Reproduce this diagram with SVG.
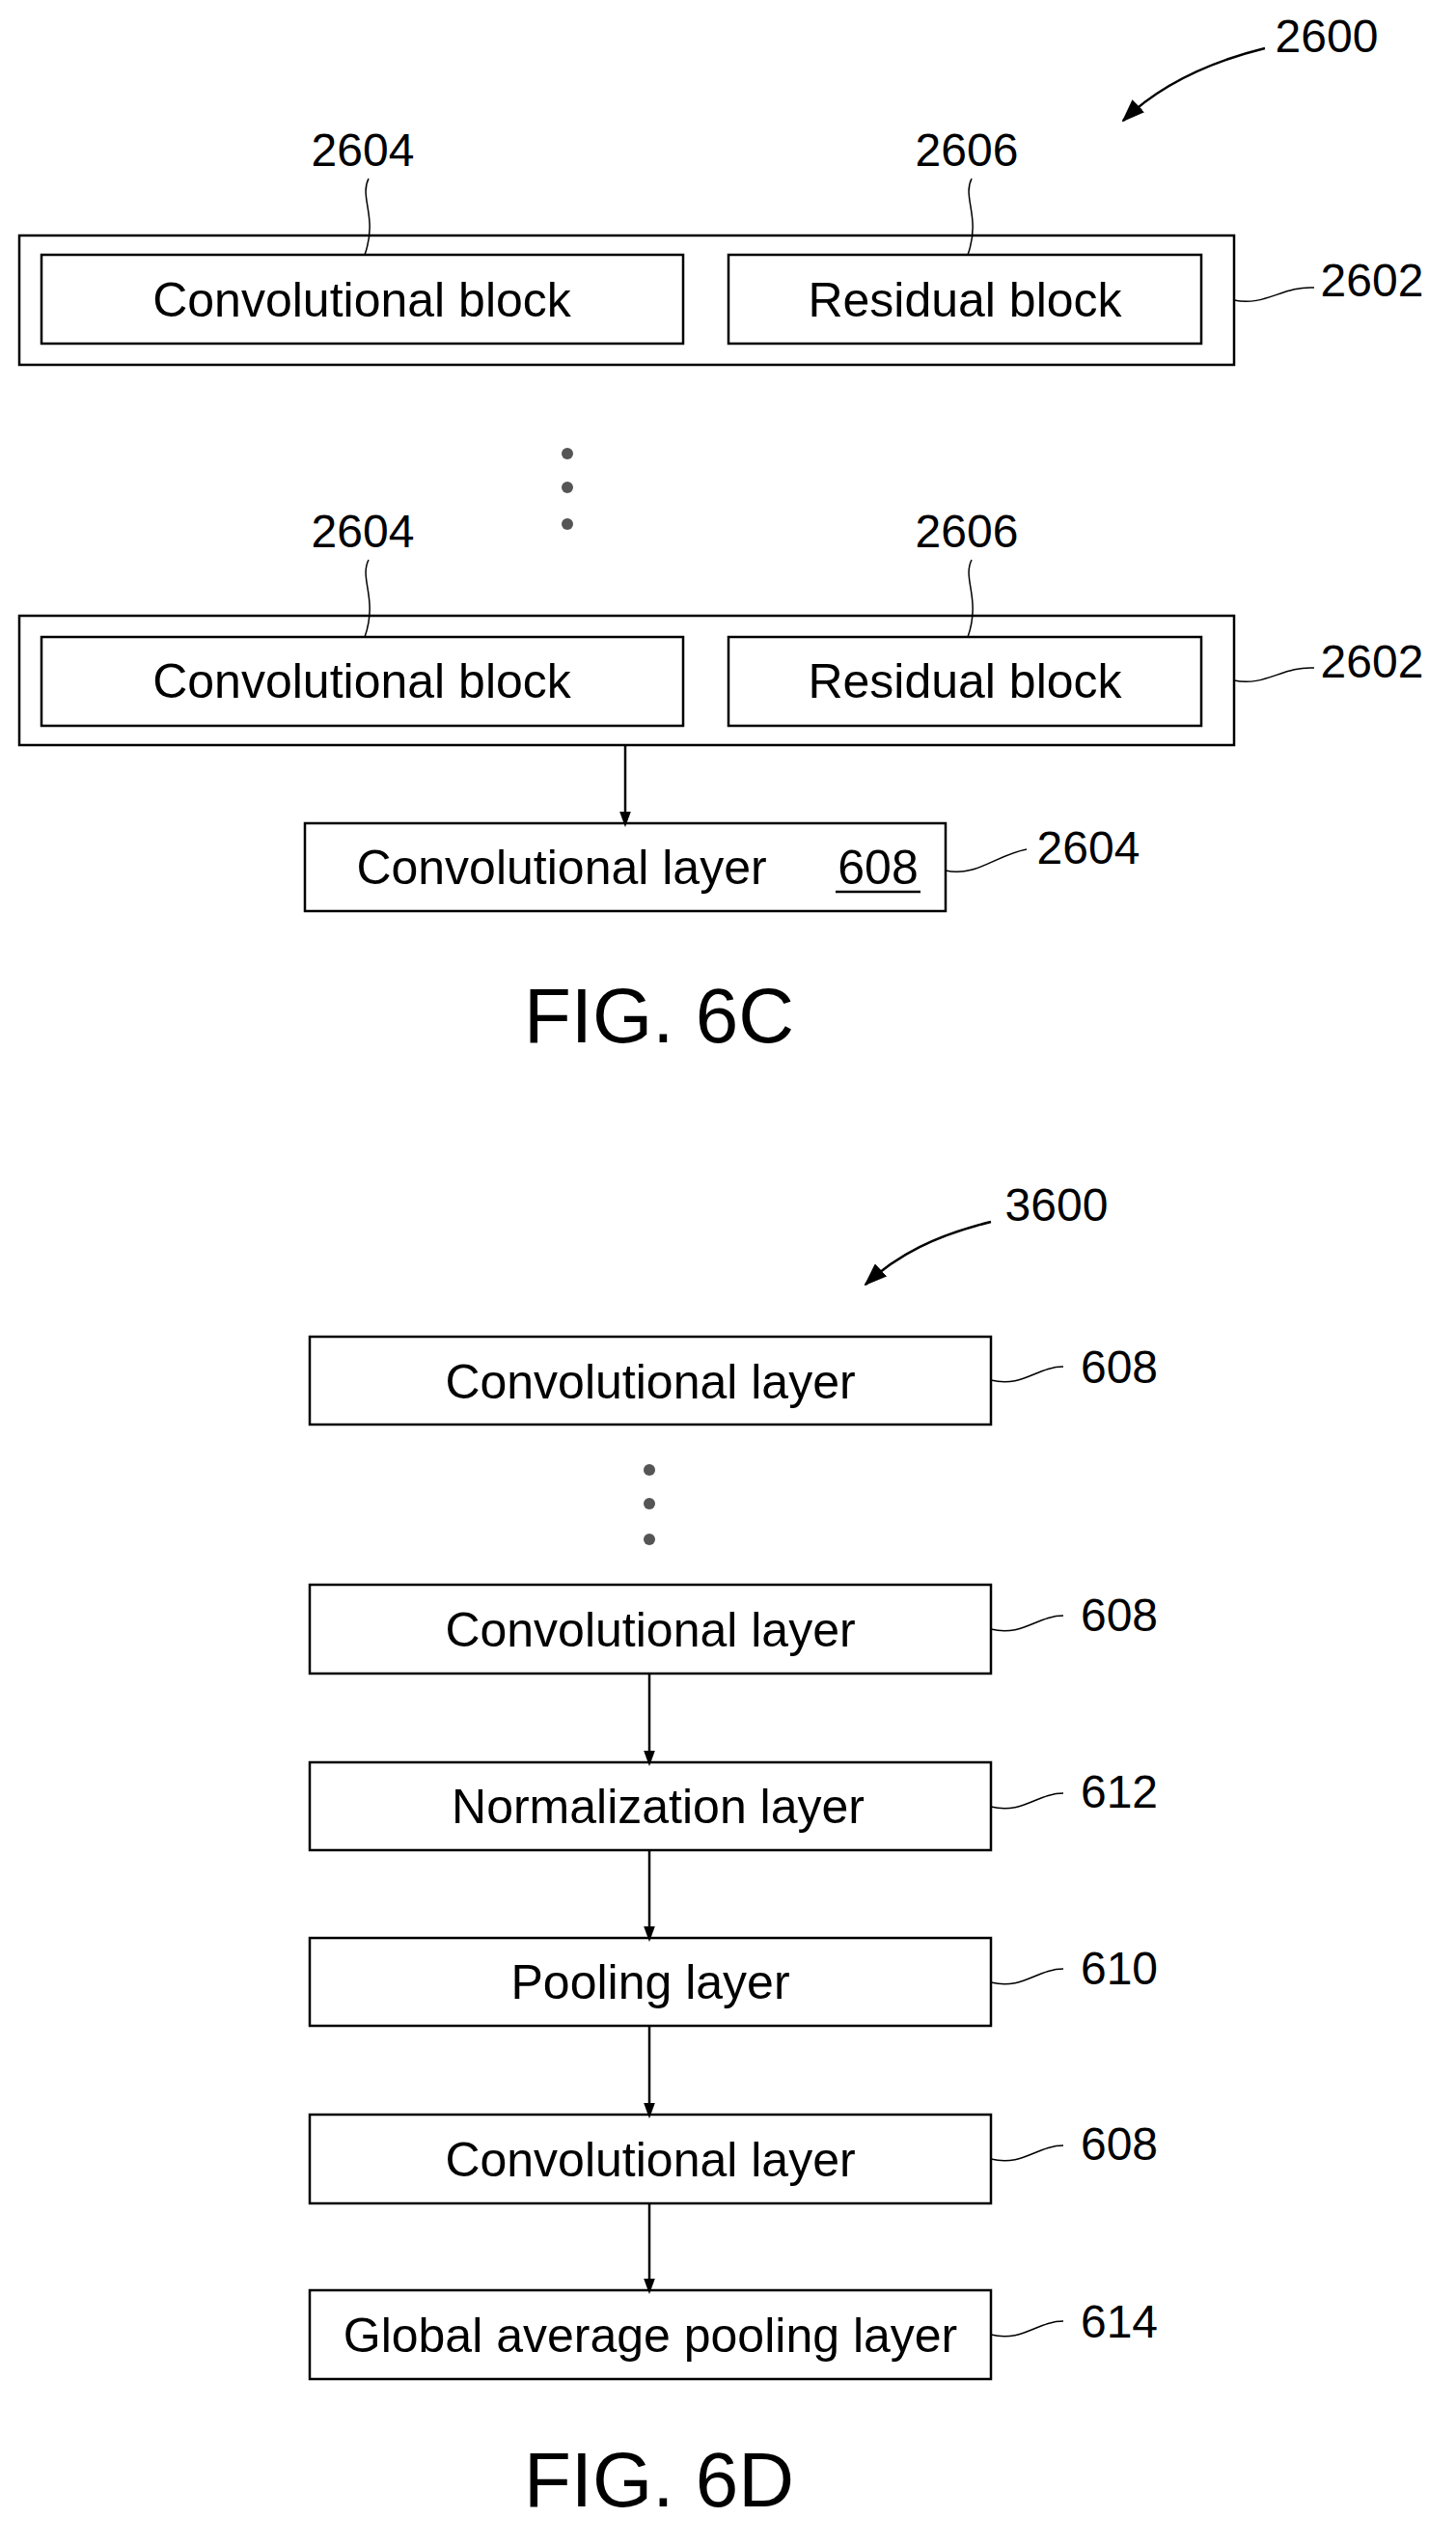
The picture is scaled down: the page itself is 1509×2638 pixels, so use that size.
<svg xmlns="http://www.w3.org/2000/svg" width="1509" height="2638" viewBox="0 0 1509 2638">
<style>
.b{fill:none;stroke:#000;stroke-width:2.5}
.t{font-family:"Liberation Sans",Arial,sans-serif;font-size:50px;fill:#000;text-anchor:middle}
.l{font-family:"Liberation Sans",Arial,sans-serif;font-size:48px;fill:#000;text-anchor:middle}
.f{font-family:"Liberation Sans",Arial,sans-serif;font-size:80px;fill:#000;text-anchor:middle}
.c{fill:none;stroke:#000;stroke-width:1.5}
.a{fill:none;stroke:#000;stroke-width:2.5}
.d{fill:#555}
</style>
<defs><marker id="ar" markerWidth="16" markerHeight="22" refX="15" refY="8" orient="auto" markerUnits="userSpaceOnUse" viewBox="0 0 22 16"><path d="M0,0 L22,8 L0,16 Z" fill="#000"/></marker>
<marker id="ah" markerWidth="24" markerHeight="18" refX="22" refY="9" orient="auto" markerUnits="userSpaceOnUse" viewBox="0 0 24 18"><path d="M0,0 L24,9 L0,18 Z" fill="#000"/></marker></defs>
<g id="n2600"><text class="l" x="1375" y="54">2600</text></g>
<g id="grp1"><rect class="b" x="20" y="244" width="1259" height="134"/>
<g id="conv1"><rect class="b" x="43" y="264" width="665" height="92"/><text class="t" x="375" y="328">Convolutional block</text></g>
<g id="res1"><rect class="b" x="755" y="264" width="490" height="92"/><text class="t" x="1000" y="328">Residual block</text></g>
<text class="l" x="376" y="172">2604</text><text class="l" x="1002" y="172">2606</text><text class="l" x="1422" y="307">2602</text></g>
<g id="dots1"><circle class="d" cx="588" cy="470" r="6"/><circle class="d" cx="588" cy="505" r="6"/><circle class="d" cx="588" cy="543" r="6"/></g>
<g id="grp2"><rect class="b" x="20" y="638" width="1259" height="134"/>
<g id="conv2"><rect class="b" x="43" y="660" width="665" height="92"/><text class="t" x="375" y="723">Convolutional block</text></g>
<g id="res2"><rect class="b" x="755" y="660" width="490" height="92"/><text class="t" x="1000" y="723">Residual block</text></g>
<text class="l" x="376" y="567">2604</text><text class="l" x="1002" y="567">2606</text><text class="l" x="1422" y="702">2602</text></g>
<g id="convlayerC"><rect class="b" x="316" y="853" width="664" height="91"/><text class="t" x="582" y="916">Convolutional layer</text><text class="t" x="910" y="916">608</text><line x1="866" y1="924" x2="954" y2="924" stroke="#000" stroke-width="2.5"/><text class="l" x="1128" y="895">2604</text></g>
<text class="f" x="683" y="1080">FIG. 6C</text>
<g id="n3600"><text class="l" x="1095" y="1265">3600</text></g>
<g id="r1"><rect class="b" x="321" y="1385" width="706" height="91"/><text class="t" x="674" y="1449">Convolutional layer</text><text class="l" x="1160" y="1433">608</text></g>
<g id="dots2"><circle class="d" cx="673" cy="1523" r="6"/><circle class="d" cx="673" cy="1558" r="6"/><circle class="d" cx="673" cy="1595" r="6"/></g>
<g id="r2"><rect class="b" x="321" y="1642" width="706" height="92"/><text class="t" x="674" y="1706">Convolutional layer</text><text class="l" x="1160" y="1690">608</text></g>
<g id="r3"><rect class="b" x="321" y="1826" width="706" height="91"/><text class="t" x="682" y="1889">Normalization layer</text><text class="l" x="1160" y="1873">612</text></g>
<g id="r4"><rect class="b" x="321" y="2008" width="706" height="91"/><text class="t" x="674" y="2071">Pooling layer</text><text class="l" x="1160" y="2056">610</text></g>
<g id="r5"><rect class="b" x="321" y="2191" width="706" height="92"/><text class="t" x="674" y="2255">Convolutional layer</text><text class="l" x="1160" y="2238">608</text></g>
<g id="r6"><rect class="b" x="321" y="2373" width="706" height="92"/><text class="t" x="674" y="2437" font-size="47">Global average pooling layer</text><text class="l" x="1160" y="2422">614</text></g>
<text class="f" x="683" y="2597">FIG. 6D</text>
<g id="connectors">
<path class="c" d="M382,185 C372,205 392,225 378,264"/>
<path class="c" d="M1007,185 C997,205 1017,225 1003,264"/>
<path class="c" d="M1279,311 C1310,318 1330,296 1362,298"/>
<path class="c" d="M382,580 C372,600 392,620 378,660"/>
<path class="c" d="M1007,580 C997,600 1017,620 1003,660"/>
<path class="c" d="M1279,705 C1310,712 1330,690 1362,692"/>
<path class="c" d="M980,902 C1012,909 1032,886 1064,880"/>
<path class="a" d="M1311,50 C1250,65 1200,90 1164,125" marker-end="url(#ah)"/>
<path class="a" d="M1027,1266 C970,1280 930,1300 897,1331" marker-end="url(#ah)"/>
<line class="a" x1="648" y1="772" x2="648" y2="852" marker-end="url(#ar)"/>
<line class="a" x1="673" y1="1734" x2="673" y2="1825" marker-end="url(#ar)"/>
<line class="a" x1="673" y1="1917" x2="673" y2="2007" marker-end="url(#ar)"/>
<line class="a" x1="673" y1="2099" x2="673" y2="2190" marker-end="url(#ar)"/>
<line class="a" x1="673" y1="2283" x2="673" y2="2372" marker-end="url(#ar)"/>
<path class="c" d="M1027,1430 C1060,1438 1075,1416 1102,1416"/>
<path class="c" d="M1027,1688 C1060,1696 1075,1674 1102,1674"/>
<path class="c" d="M1027,1872 C1060,1880 1075,1858 1102,1858"/>
<path class="c" d="M1027,2054 C1060,2062 1075,2040 1102,2040"/>
<path class="c" d="M1027,2237 C1060,2245 1075,2223 1102,2223"/>
<path class="c" d="M1027,2419 C1060,2427 1075,2405 1102,2405"/>
</g>
</svg>
